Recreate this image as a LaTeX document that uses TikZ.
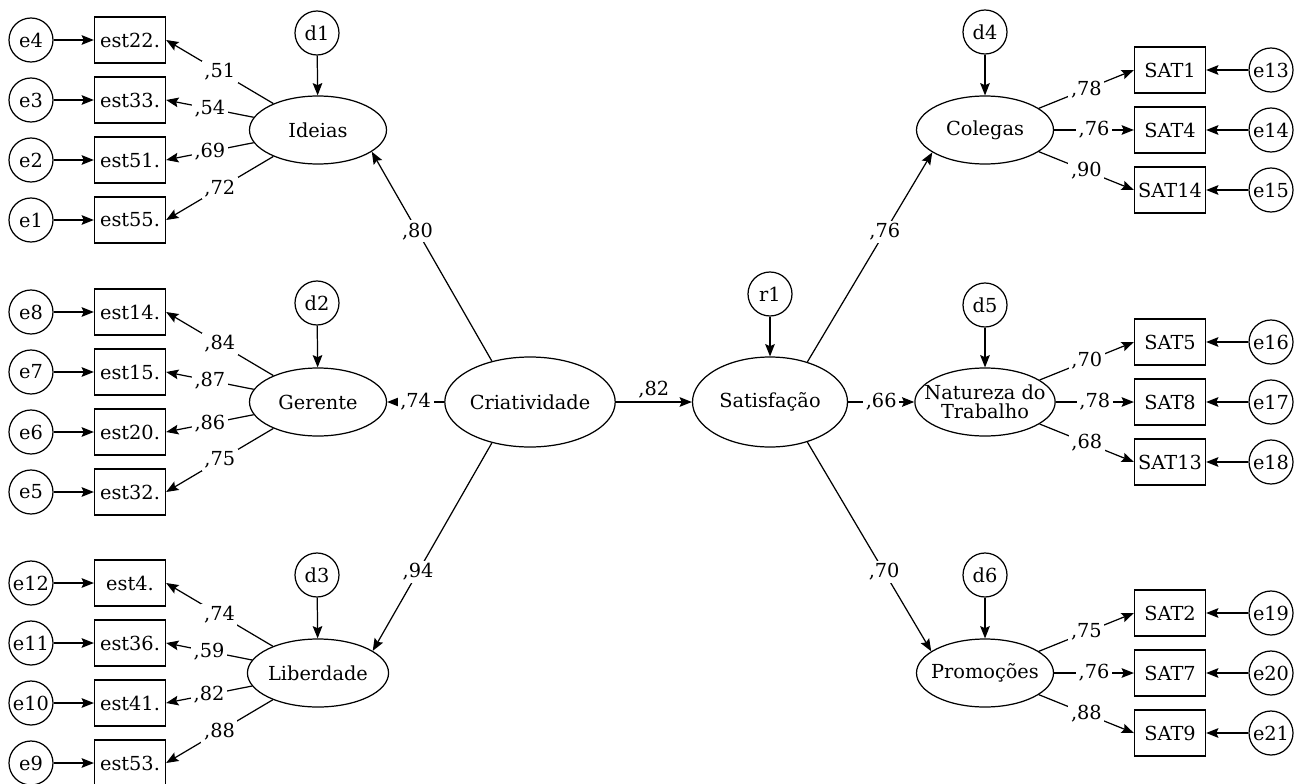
\documentclass[tikz,border=0pt]{standalone}
\usepackage{fontspec}
\setmainfont{DejaVu Serif}
\usetikzlibrary{arrows.meta,shapes.geometric}

\begin{document}
\begin{tikzpicture}[>={Stealth[length=7pt,width=5.5pt,inset=1.2pt]},line width=0.7pt,
		font=\fontsize{11}{10.5}\selectfont,
		latent/.style={draw,ellipse,minimum width=2.74cm,minimum height=1.36cm,inner sep=0pt},
		central/.style={draw,ellipse,minimum width=3.1cm,minimum height=1.8cm,inner sep=0pt},
		ind/.style={draw,rectangle,minimum width=1.42cm,minimum height=0.92cm,inner sep=0pt},
		err/.style={draw,circle,minimum size=0.88cm,inner sep=0pt},
		lbl/.style={fill=white,inner sep=1.5pt}]
		\useasboundingbox (0,0) rectangle (25.96,-15.68);

		% central factors
		\node[central](criat) at (10.6,-8.04) {Criatividade};
		\node[central](satisf) at (15.4,-8.04) {Satisfação};
		\node[err](r1) at (15.4,-5.88) {r1};

		% left factors
		\node[latent](ideias) at (6.36,-2.6) {Ideias};
		\node[latent](gerente) at (6.36,-8.04) {Gerente};
		\node[latent](liberdade) at (6.36,-13.46) {Liberdade};
		\node[err](d1) at (6.34,-0.66) {d1};
		\node[err](d2) at (6.34,-6.06) {d2};
		\node[err](d3) at (6.34,-11.5) {d3};

		% right factors
		\node[latent](colegas) at (19.7,-2.6) {Colegas};
		\node[latent,align=center,inner xsep=-0.22cm](natureza) at (19.7,-8.04) {Natureza do\\Trabalho};
		\node[latent,inner xsep=-0.11cm](promo) at (19.7,-13.46) {Promoções};
		\node[err](d4) at (19.7,-0.64) {d4};
		\node[err](d5) at (19.7,-6.1) {d5};
		\node[err](d6) at (19.7,-11.5) {d6};

		% indicators of Ideias
		\node[ind](est22) at (2.6,-0.8) {est22.};
		\node[ind](est33) at (2.6,-2.0) {est33.};
		\node[ind](est51) at (2.6,-3.2) {est51.};
		\node[ind](est55) at (2.6,-4.4) {est55.};
		\node[err](e4) at (0.62,-0.8) {e4};
		\node[err](e3) at (0.62,-2.0) {e3};
		\node[err](e2) at (0.62,-3.2) {e2};
		\node[err](e1) at (0.62,-4.4) {e1};

		% indicators of Gerente
		\node[ind](est14) at (2.6,-6.24) {est14.};
		\node[ind](est15) at (2.6,-7.44) {est15.};
		\node[ind](est20) at (2.6,-8.64) {est20.};
		\node[ind](est32) at (2.6,-9.84) {est32.};
		\node[err](e8) at (0.62,-6.24) {e8};
		\node[err](e7) at (0.62,-7.44) {e7};
		\node[err](e6) at (0.62,-8.64) {e6};
		\node[err](e5) at (0.62,-9.84) {e5};

		% indicators of Liberdade
		\node[ind](est4) at (2.6,-11.66) {est4.};
		\node[ind](est36) at (2.6,-12.86) {est36.};
		\node[ind](est41) at (2.6,-14.06) {est41.};
		\node[ind](est53) at (2.6,-15.26) {est53.};
		\node[err](e12) at (0.62,-11.66) {e12};
		\node[err](e11) at (0.62,-12.86) {e11};
		\node[err](e10) at (0.62,-14.06) {e10};
		\node[err](e9) at (0.62,-15.26) {e9};

		% indicators of Colegas
		\node[ind](sat1) at (23.4,-1.4) {SAT1};
		\node[ind](sat4) at (23.4,-2.6) {SAT4};
		\node[ind](sat14) at (23.4,-3.8) {SAT14};
		\node[err](e13) at (25.42,-1.4) {e13};
		\node[err](e14) at (25.42,-2.6) {e14};
		\node[err](e15) at (25.42,-3.8) {e15};

		% indicators of Natureza do Trabalho
		\node[ind](sat5) at (23.4,-6.84) {SAT5};
		\node[ind](sat8) at (23.4,-8.04) {SAT8};
		\node[ind](sat13) at (23.4,-9.24) {SAT13};
		\node[err](e16) at (25.42,-6.84) {e16};
		\node[err](e17) at (25.42,-8.04) {e17};
		\node[err](e18) at (25.42,-9.24) {e18};

		% indicators of Promoções
		\node[ind](sat2) at (23.4,-12.26) {SAT2};
		\node[ind](sat7) at (23.4,-13.46) {SAT7};
		\node[ind](sat9) at (23.4,-14.66) {SAT9};
		\node[err](e19) at (25.42,-12.26) {e19};
		\node[err](e20) at (25.42,-13.46) {e20};
		\node[err](e21) at (25.42,-14.66) {e21};

		% structural paths
		\draw[->] (criat.133)--node[lbl,pos=0.62]{,80}(ideias.-22);
		\draw[->] (criat)--node[lbl]{,74}(gerente);
		\draw[->] (criat.-133)--node[lbl,pos=0.62]{,94}(liberdade.22);
		\draw[->] (criat)--node[above,inner sep=2pt]{,82}(satisf);
		\draw[->] (satisf.47)--node[lbl,pos=0.62]{,76}(colegas.203);
		\draw[->] (satisf)--node[lbl]{,66}(natureza);
		\draw[->] (satisf.-47)--node[lbl,pos=0.62]{,70}(promo.158);

		% disturbances
		\draw[->] (r1)--(satisf);
		\draw[->] (d1)--(ideias);
		\draw[->] (d2)--(gerente);
		\draw[->] (d3)--(liberdade);
		\draw[->] (d4)--(colegas);
		\draw[->] (d5)--(natureza);
		\draw[->] (d6)--(promo);

		% loadings, left
		\draw[->] (ideias)--node[lbl]{,51}(est22.east);
		\draw[->] (ideias)--node[lbl]{,54}(est33.east);
		\draw[->] (ideias)--node[lbl]{,69}(est51.east);
		\draw[->] (ideias)--node[lbl]{,72}(est55.east);
		\draw[->] (gerente)--node[lbl]{,84}(est14.east);
		\draw[->] (gerente)--node[lbl]{,87}(est15.east);
		\draw[->] (gerente)--node[lbl]{,86}(est20.east);
		\draw[->] (gerente)--node[lbl]{,75}(est32.east);
		\draw[->] (liberdade)--node[lbl]{,74}(est4.east);
		\draw[->] (liberdade)--node[lbl]{,59}(est36.east);
		\draw[->] (liberdade)--node[lbl]{,82}(est41.east);
		\draw[->] (liberdade)--node[lbl]{,88}(est53.east);

		% loadings, right
		\draw[->] (colegas)--node[lbl]{,78}(sat1.west);
		\draw[->] (colegas)--node[lbl]{,76}(sat4.west);
		\draw[->] (colegas)--node[lbl]{,90}(sat14.west);
		\draw[->] (natureza)--node[lbl]{,70}(sat5.west);
		\draw[->] (natureza)--node[lbl]{,78}(sat8.west);
		\draw[->] (natureza)--node[lbl]{,68}(sat13.west);
		\draw[->] (promo)--node[lbl]{,75}(sat2.west);
		\draw[->] (promo)--node[lbl]{,76}(sat7.west);
		\draw[->] (promo)--node[lbl]{,88}(sat9.west);

		% errors
		\draw[->] (e4)--(est22); \draw[->] (e3)--(est33); \draw[->] (e2)--(est51); \draw[->] (e1)--(est55);
		\draw[->] (e8)--(est14); \draw[->] (e7)--(est15); \draw[->] (e6)--(est20); \draw[->] (e5)--(est32);
		\draw[->] (e12)--(est4); \draw[->] (e11)--(est36); \draw[->] (e10)--(est41); \draw[->] (e9)--(est53);
		\draw[->] (e13)--(sat1); \draw[->] (e14)--(sat4); \draw[->] (e15)--(sat14);
		\draw[->] (e16)--(sat5); \draw[->] (e17)--(sat8); \draw[->] (e18)--(sat13);
		\draw[->] (e19)--(sat2); \draw[->] (e20)--(sat7); \draw[->] (e21)--(sat9);
	\end{tikzpicture}
\end{document}
